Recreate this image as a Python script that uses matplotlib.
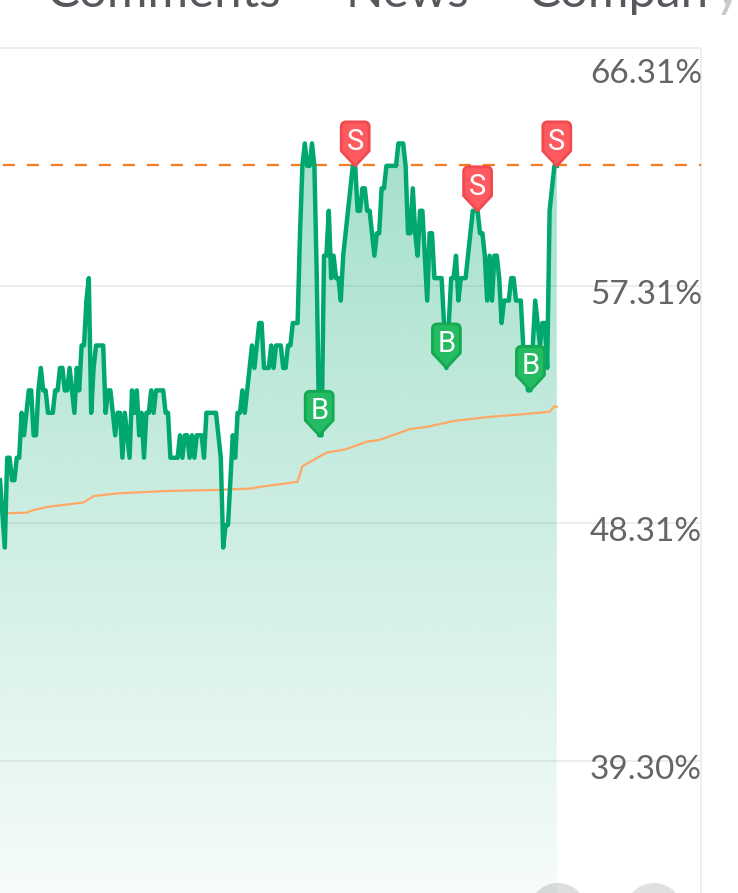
import numpy as np
import matplotlib
matplotlib.use('Agg')
import matplotlib.pyplot as plt
from matplotlib.colors import to_rgb
from matplotlib.patches import Circle, PathPatch
from matplotlib.path import Path
from matplotlib.transforms import Affine2D, IdentityTransform

W, H = 738, 893

tick_values = [66.31, 57.31, 48.31, 39.30]
tick_labels = ['66.31%', '57.31%', '48.31%', '39.30%']
target_line = 61.88
tabs = ['Comments', 'News', 'Compan', 'y']

# one value per session
values = [
    49.95, 48.70, 47.40, 50.80, 50.80, 49.95, 49.95, 50.80, 50.80, 52.50,
    51.65, 52.50, 53.35, 53.35, 51.65, 51.65, 53.35, 54.20, 53.35, 53.35,
    52.50, 52.50, 52.50, 53.35, 53.35, 54.20, 54.20, 53.35, 53.35, 54.20,
    53.35, 52.50, 54.20, 53.35, 55.05, 55.05, 56.75, 57.60, 52.50, 54.20,
    55.05, 55.05, 55.05, 55.05, 52.50, 53.35, 53.35, 52.50, 51.65, 52.50,
    52.50, 50.80, 52.50, 51.65, 50.80, 53.35, 52.50, 53.35, 51.65, 52.50,
    50.80, 52.50, 52.50, 53.35, 52.50, 53.35, 53.35, 53.35, 53.35, 52.50,
    52.50, 50.80, 50.80, 50.80, 50.80, 51.65, 50.80, 51.65, 51.65, 50.80,
    51.65, 50.80, 51.65, 51.65, 51.65, 50.80, 52.50, 52.50, 52.50, 52.50,
    52.50, 51.65, 50.80, 47.40, 48.25, 48.25, 49.95, 51.65, 50.80, 52.50,
    52.50, 53.35, 52.50, 53.35, 54.20, 55.05, 54.20, 55.05, 55.90, 55.90,
    54.20, 54.20, 54.20, 55.05, 54.20, 55.05, 55.05, 55.05, 54.20, 54.20,
    55.05, 55.05, 55.90, 55.90, 55.90, 59.30, 61.85, 62.70, 61.85, 61.85,
    62.70, 61.85, 57.60, 51.65, 51.65, 58.45, 58.45, 60.15, 57.60, 58.45,
    57.60, 57.60, 56.75, 58.45, 59.30, 60.15, 61.00, 61.85, 61.85, 60.15,
    60.15, 61.00, 61.00, 60.15, 60.15, 59.30, 58.45, 59.30, 59.30, 61.00,
    61.00, 61.85, 61.85, 61.85, 61.85, 61.85, 62.70, 62.70, 62.70, 61.85,
    59.30, 59.30, 61.00, 59.30, 58.45, 60.15, 60.15, 58.45, 56.75, 59.30,
    59.30, 57.60, 57.60, 57.60, 57.60, 55.90, 54.20, 55.90, 57.60, 57.60,
    58.45, 56.75, 57.60, 57.60, 57.60, 58.45, 59.30, 60.15, 60.15, 60.15,
    59.30, 59.30, 58.45, 56.75, 58.45, 56.75, 58.45, 58.45, 57.60, 55.90,
    56.75, 56.75, 56.75, 57.60, 57.60, 56.75, 56.75, 56.75, 55.05, 54.20,
    53.35, 53.35, 55.05, 56.75, 55.90, 55.05, 55.90, 55.90, 54.20, 60.15,
    61.00, 61.85, 61.85,
]

cost_sessions = [0, 11, 14, 20, 35, 39, 49, 69, 90, 104, 110, 117, 124, 126,
                 136, 144, 153, 158, 171, 178, 189, 203, 217, 229, 231, 232]
cost_values = [48.69, 48.72, 48.82, 48.94, 49.11, 49.35, 49.45, 49.54, 49.58,
               49.63, 49.72, 49.80, 49.89, 50.48, 50.99, 51.12, 51.41, 51.47,
               51.89, 51.97, 52.19, 52.34, 52.44, 52.54, 52.75, 52.73]

sell_sessions = [148, 199, 232]
sell_values = [61.85, 60.15, 61.85]
buy_sessions = [133, 186, 221]
buy_values = [51.65, 54.20, 53.35]


def pin_path(w=28, body=29, tip=15, r=5):
    # pin with its tip on (0, 0), pixel units, y up
    h = w / 2
    top = tip + body
    verts = [(0, 0), (h, tip), (h, top - r), (h, top), (h - r, top),
             (-h + r, top), (-h, top), (-h, top - r), (-h, tip), (0, 0)]
    codes = [Path.MOVETO, Path.LINETO, Path.LINETO, Path.CURVE3, Path.CURVE3,
             Path.LINETO, Path.CURVE3, Path.CURVE3, Path.LINETO, Path.CLOSEPOLY]
    return Path(verts, codes)


def draw_pin(ax, x, y, letter, face, edge):
    px, py = ax.transData.transform((x, y))
    patch = PathPatch(pin_path().transformed(Affine2D().translate(px, py)),
                      facecolor=face, edgecolor=edge, lw=2.0,
                      transform=IdentityTransform(), zorder=6, joinstyle='round')
    ax.add_patch(patch)
    ax.annotate(letter, (x, y), xytext=(0, 24), textcoords='offset pixels',
                ha='center', va='center', color='white', fontsize=21,
                family='Roboto', zorder=7)


fig = plt.figure(figsize=(W / 100, H / 100), dpi=100)
ax = fig.add_axes([0, 0, 1, 1])
ax.set_xlim(0, W / 2.4)
ax.set_ylim(34.32, 68.13)
ax.axis('off')

right = 701 / W
ax.hlines(tick_values, 0, right, transform=ax.get_yaxis_transform(),
          color='#eeeeee', lw=1.4, zorder=1)
ax.vlines(right, 0, (H - 48) / H, transform=ax.transAxes,
          color='#eeeeee', lw=1.4, zorder=1)

sessions = np.arange(len(values))

# area under the line, green fading downwards
area = ax.fill_between(sessions, values, 34.32, color='none', lw=0)
grad = np.zeros((256, 1, 4))
grad[..., :3] = to_rgb('#00a870')
grad[:, 0, 3] = np.linspace(0.36, 0.04, 256)
im = ax.imshow(grad, extent=(0, sessions[-1], 34.32, max(values)),
               aspect='auto', origin='upper', zorder=2)
im.set_clip_path(area.get_paths()[0], ax.transData)
ax.set_xlim(0, W / 2.4)
ax.set_ylim(34.32, 68.13)

ax.plot([0, W / 2.4 * right], [target_line, target_line], color='#f57c20',
        lw=1.6, linestyle=(9.5, (5.4, 5.4)), zorder=3)
ax.plot(cost_sessions, cost_values, color='#ffa866', lw=1.6, zorder=3)
ax.plot(sessions, values, color='#00a870', lw=3.2, solid_joinstyle='round',
        zorder=4)

for x, y in zip(sell_sessions, sell_values):
    draw_pin(ax, x, y, 'S', '#ff5a60', '#f04a4f')
for x, y in zip(buy_sessions, buy_values):
    draw_pin(ax, x, y, 'B', '#25bb62', '#14aa52')

for v, label, drop in zip(tick_values, tick_labels, [35, 18, 18, 18]):
    ax.annotate(label, (right, v), xycoords=ax.get_yaxis_transform(),
                xytext=(1, -drop), textcoords='offset pixels', ha='right',
                va='baseline', color='#636569', fontsize=24, family='Lato')

# tab bar, cut off by the top edge
for label, x0, col in zip(tabs, [47, 345, 528, 714],
                          ['#55585c', '#55585c', '#55585c', '#c8c9cb']):
    fig.text(x0 / W, 1 - 7 / H, label, ha='left', va='baseline', color=col,
             fontsize=35.5, family='Lato')

# round buttons under the chart
for cx, alpha in zip([558, 654], [0.13, 0.12]):
    ax.add_patch(Circle((cx, H - 912), 29, transform=IdentityTransform(),
                        facecolor='black', alpha=alpha, lw=0, zorder=5))

fig.savefig('out.png', dpi=100)
